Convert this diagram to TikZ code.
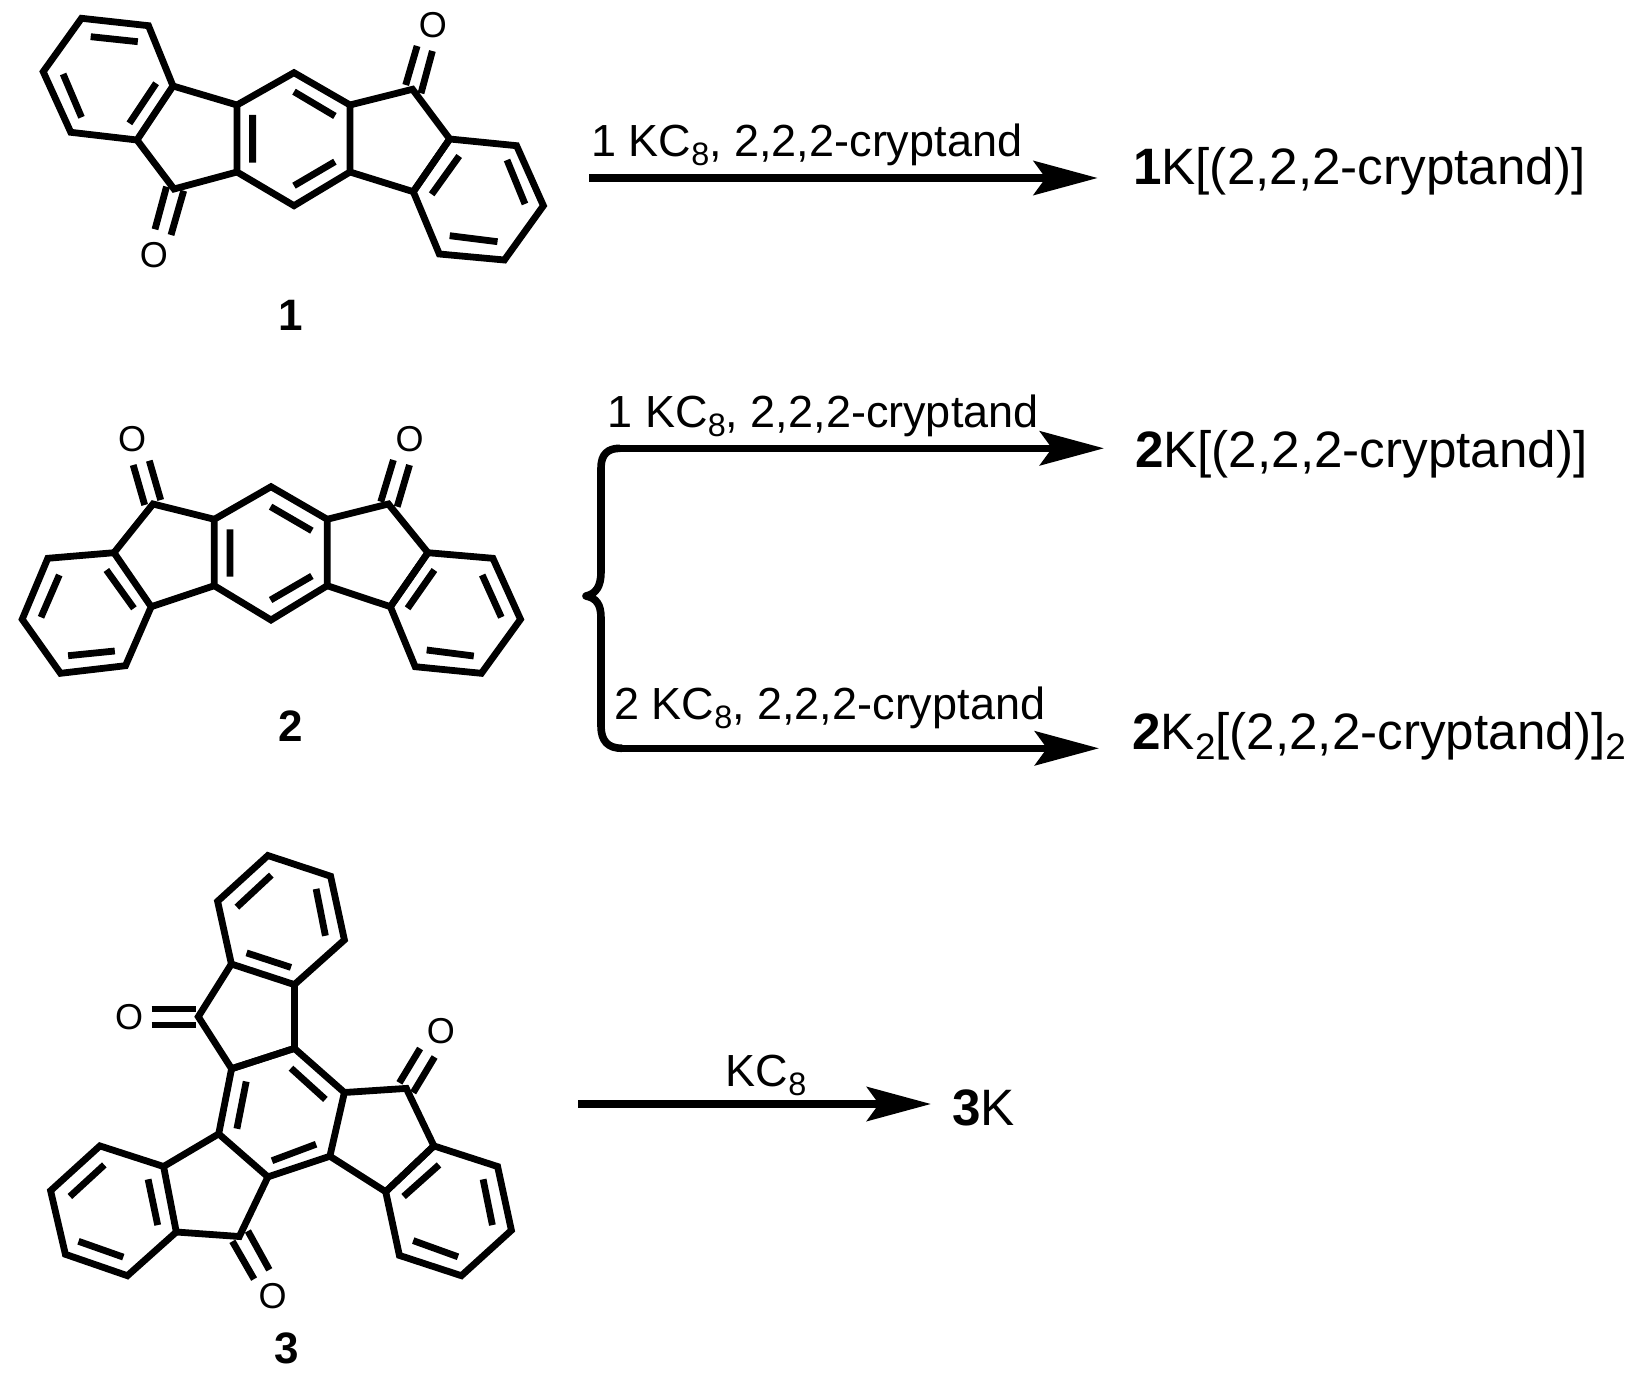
\documentclass[tikz,border=0pt]{standalone}
\usepackage{fontspec}
\setmainfont{Liberation Sans}
\usetikzlibrary{arrows.meta}
\newcommand{\lowsub}[1]{\raisebox{-.21em}{\scalebox{.72}{#1}}}
\tikzset{
  bond/.style={line width=3.4pt, line join=miter},
  rxn/.style={line width=3.8pt, -{Stealth[length=32pt, width=17pt, inset=6pt]}},
  oxy/.style={inner sep=0pt, font=\fontsize{18}{18}\selectfont},
  lbl/.style={inner sep=0pt, font=\fontsize{22}{22}\selectfont\bfseries},
  cond/.style={anchor=base west, inner sep=0pt, font=\fontsize{22.5}{22.5}\selectfont},
  prod/.style={anchor=base west, inner sep=0pt, font=\fontsize{25.6}{25.6}\selectfont}
}
\begin{document}
\begin{tikzpicture}[x=0.5pt,y=-0.5pt]
\useasboundingbox (0,0) rectangle (1643,1375);
% molecule 1
\foreach \n/\p in {a1/{81.5,18.3},a2/{148.5,25.7},a3/{173,86},a4/{137,140},a5/{70.8,132.3},a6/{43.2,71.7},
    a7/{294,72.7},a8/{350,105},a9/{350,172},a10/{294,205.7},a11/{237,172},a12/{237,105},a13/{174,189},
    a14/{412.5,89.3},a15/{449.7,139},a16/{413.3,191.7},a17/{516.6,145.7},a18/{543.4,205.7},a19/{504.4,260},a20/{439.3,254}}
  \coordinate (\n) at (\p);
\draw[bond] (a1) -- (a2) -- (a3) -- (a4) -- (a5) -- (a6) -- cycle;
\draw[bond] (a7) -- (a8) -- (a9) -- (a10) -- (a11) -- (a12) -- cycle;
\draw[bond] (a3) -- (a12) (a11) -- (a13) -- (a4);
\draw[bond] (a8) -- (a14) -- (a15) -- (a16) -- (a9);
\draw[bond] (a15) -- (a17) -- (a18) -- (a19) -- (a20) -- (a16) -- cycle;
\draw[bond] (90.7,36.7) -- (137.8,41.7) (63.1,74) -- (81.5,117.3) (156.1,83.3) -- (129.4,123.3);
\draw[bond] (252.6,115) -- (252.6,162.7) (294,91.7) -- (334.9,116) (334.9,161.7) -- (294,185.7);
\draw[bond] (459.2,156) -- (431.7,194.3) (507,160) -- (525,204) (449.7,235.7) -- (497.5,241.7);
\draw[bond] (405.7,85) -- (417.1,46) (421,93.3) -- (432.4,51);
\draw[bond] (166.5,186.7) -- (155,229.3) (183.7,190.7) -- (171,235);
\node at (432.8,25) [oxy] (O1a) {O};
\node at (153.8,255) [oxy] (O1b) {O};
\node at (291,315) [lbl] (L1) {1};
% molecule 2
\foreach \n/\p in {b1/{114,552.7},b2/{47.8,558.3},b3/{22.2,619.3},b4/{60.5,673.3},b5/{125.5,665.7},b6/{151.2,606.7},
    b7/{153,504},b8/{271,486.7},b9/{327.2,519.3},b10/{327.2,585.7},b11/{271,620},b12/{214.3,585.7},b13/{214.3,519.3},
    b14/{388.4,504},b15/{427.9,552.7},b16/{390.4,606.7},b17/{492.9,558.3},b18/{520.5,619.3},b19/{481.4,673.3},b20/{415.2,666.7}}
  \coordinate (\n) at (\p);
\draw[bond] (b1) -- (b2) -- (b3) -- (b4) -- (b5) -- (b6) -- cycle;
\draw[bond] (b8) -- (b9) -- (b10) -- (b11) -- (b12) -- (b13) -- cycle;
\draw[bond] (b1) -- (b7) -- (b13) (b12) -- (b6);
\draw[bond] (b9) -- (b14) -- (b15) -- (b16) -- (b10);
\draw[bond] (b15) -- (b17) -- (b18) -- (b19) -- (b20) -- (b16) -- cycle;
\draw[bond] (59.3,575) -- (41,617.3) (68.1,655.7) -- (114.8,651) (106.4,570) -- (133.9,608.3);
\draw[bond] (230,529.3) -- (230,576.7) (270.6,506.7) -- (311.9,530.7) (311.9,576) -- (270.6,600);
\draw[bond] (434.4,570) -- (407.6,608.3) (482.2,575) -- (501.3,617.3) (426.7,650) -- (473.8,656);
\draw[bond] (133.2,465) -- (144.7,505) (149.3,460.7) -- (160.7,500);
\draw[bond] (393.4,460) -- (380.8,501.7) (409.5,465) -- (397.2,506.7);
\node at (132,438.7) [oxy] (O2a) {O};
\node at (409.5,438.7) [oxy] (O2b) {O};
\node at (290.5,726) [lbl] (L2) {2};
% molecule 3
\foreach \n/\p in {c1/{267.9,855.5},c2/{330.6,876.2},c3/{344.4,939.9},c4/{294.4,984.6},c5/{231.4,964},c6/{217.6,901.3},
    c7/{198.3,1016.7},c8/{231.6,1068.7},c9/{294.4,1048.4},c10/{344.4,1092.5},c11/{329.9,1156.2},c12/{267.9,1176.9},c13/{218.7,1133.9},
    c14/{406.3,1088.4},c15/{433.9,1145.9},c16/{385.7,1191.7},c17/{497.6,1166.5},c18/{511.4,1230.3},c19/{461.4,1275.7},c20/{399.4,1255.4},
    c21/{163.6,1166.5},c22/{176.3,1232},c23/{239.3,1236.5},c24/{99.9,1145.9},c25/{50.6,1190.7},c26/{65.4,1254.3},c27/{127.4,1275.7}}
  \coordinate (\n) at (\p);
\draw[bond] (c1) -- (c2) -- (c3) -- (c4) -- (c5) -- (c6) -- cycle;
\draw[bond] (c5) -- (c7) -- (c8) -- (c9) -- (c4);
\draw[bond] (c8) -- (c9) -- (c10) -- (c11) -- (c12) -- (c13) -- cycle;
\draw[bond] (c10) -- (c14) -- (c15) -- (c16) -- (c11);
\draw[bond] (c15) -- (c17) -- (c18) -- (c19) -- (c20) -- (c16) -- cycle;
\draw[bond] (c13) -- (c21) -- (c22) -- (c23) -- (c12);
\draw[bond] (c21) -- (c24) -- (c25) -- (c26) -- (c27) -- (c22);
\draw[bond] (271.3,875.1) -- (236.9,907.1) (316.1,888.9) -- (325.4,935.8) (246.6,952.9) -- (291,967.4);
\draw[bond] (246.2,1081.5) -- (236.9,1128.7) (291,1068.2) -- (325.4,1099.4) (316.1,1144.2) -- (272,1160.7);
\draw[bond] (439,1164.9) -- (403.6,1196.5) (483.1,1179.3) -- (492.4,1225.1) (413.2,1240.6) -- (458,1256.8);
\draw[bond] (104.3,1164.9) -- (69.9,1196.5) (148.1,1179.3) -- (157.7,1225.1) (78.5,1241.3) -- (123.3,1257.1);
\draw[bond] (151.7,1009) -- (196.3,1009) (151.7,1025) -- (196.3,1025);
\draw[bond] (420.1,1048.5) -- (399.4,1082.8) (434.6,1057) -- (413.2,1092.6);
\draw[bond] (232.4,1241.3) -- (254.1,1279.1) (247.9,1231) -- (269.3,1269.8);
\node at (129.1,1017) [oxy] (O3a) {O};
\node at (440.8,1030.6) [oxy] (O3b) {O};
\node at (272.7,1295.7) [oxy] (O3c) {O};
\node at (287,1348) [lbl] (L3) {3};
% reactions
\coordinate (S1) at (589,178);
\coordinate (E1) at (1097.7,178);
\draw[rxn] (S1) -- (E1);
\node at (591,156.2) [cond] (C1) {1 KC\lowsub{8}, 2,2,2-cryptand};
\node at (1132.7,184.5) [prod] (P1) {\textbf{1}K[(2,2,2-cryptand)]};
\coordinate (S2) at (620,448.3);
\coordinate (E2) at (1104,448.3);
\coordinate (S3) at (622,748.3);
\coordinate (E3) at (1099,748.3);
\coordinate (T) at (586,596);
\draw[rxn] (S2) -- (E2);
\draw[rxn] (S3) -- (E3);
\draw[line width=3.8pt, line join=round] (S2) .. controls (608,448.3) and (601,454) .. (601,468) -- (601,572)
  .. controls (601,586) and (596,594) .. (T) .. controls (596,598) and (601,604) .. (601,618)
  -- (601,726) .. controls (601,741) and (608,748.3) .. (S3);
\node at (607.5,427) [cond] (C2) {1 KC\lowsub{8}, 2,2,2-cryptand};
\node at (1134.6,467.3) [prod] (P2) {\textbf{2}K[(2,2,2-cryptand)]};
\node at (614,719) [cond] (C3) {2 KC\lowsub{8}, 2,2,2-cryptand};
\node at (1132,749) [prod] (P3) {\textbf{2}K\lowsub{2}[(2,2,2-cryptand)]\lowsub{2}};
\coordinate (S4) at (578,1104);
\coordinate (E4) at (931,1104);
\draw[rxn] (S4) -- (E4);
\node at (725.5,1086) [cond] (C4) {KC\lowsub{8}};
\node at (952,1125) [prod] (P4) {\textbf{3}K};
\end{tikzpicture}
\end{document}
